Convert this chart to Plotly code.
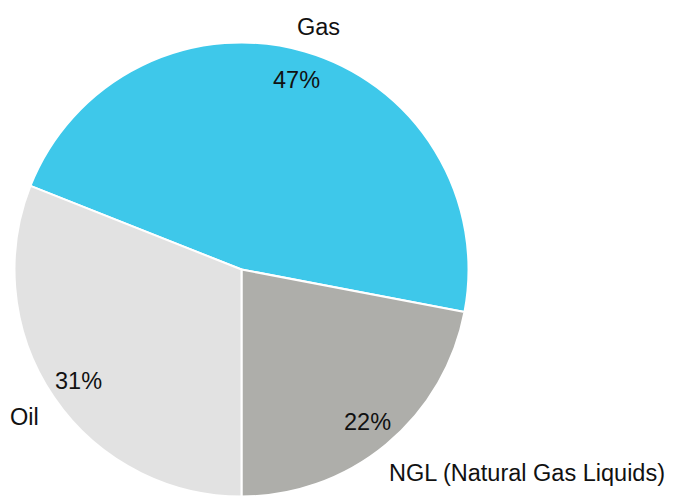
import math
import plotly.graph_objects as go

# Production mix by product
labels = ["Gas", "NGL (Natural Gas Liquids)", "Oil"]
shares = [47, 22, 31]
colors = ["#3EC8EA", "#AEAEAA", "#E2E2E2"]
# fine nudges (px) for the outside category names
name_xshift = [10, -7, -3]
name_yshift = [-2, -4, 2]

W, H = 676, 497
CX, CY, R = 241.5, 269.5, 227.0  # pie centre and radius in pixels

total = float(sum(shares))
# first slice (Gas) starts so that the NGL / Oil boundary sits at 6 o'clock
rotation = 180 - (shares[0] + shares[1]) / total * 360

fig = go.Figure(go.Pie(
    labels=labels,
    values=shares,
    sort=False,
    direction="clockwise",
    rotation=rotation,
    marker=dict(colors=colors, line=dict(color="white", width=2)),
    textinfo="none",
    hoverinfo="label+percent",
    domain=dict(x=[(CX - R) / W, (CX + R) / W],
                y=[(H - CY - R) / H, (H - CY + R) / H]),
    showlegend=False,
))

font = dict(family="Liberation Sans, Arial, sans-serif", size=23.5, color="#111111")


def to_paper(px, py):
    return px / W, 1 - py / H


annotations = []
start = rotation
for lab, val, dx, dy in zip(labels, shares, name_xshift, name_yshift):
    span = val / total * 360
    mid = math.radians(start + span / 2)
    s, c = math.sin(mid), math.cos(mid)

    # percentage inside the slice, near the rim
    x, y = to_paper(CX + 0.87 * R * s, CY - 0.87 * R * c)
    annotations.append(dict(x=x, y=y, xref="paper", yref="paper",
                            text=f"{val / total * 100:.0f}%", showarrow=False,
                            font=font, xanchor="center", yanchor="middle"))

    # category name just outside the rim
    ro = R + 12
    x, y = to_paper(CX + ro * s, CY - ro * c)
    xa = "left" if s > 0.3 else ("right" if s < -0.3 else "center")
    ya = "bottom" if c > 0.3 else ("top" if c < -0.3 else "middle")
    annotations.append(dict(x=x, y=y, xref="paper", yref="paper",
                            text=lab, showarrow=False, font=font,
                            xanchor=xa, yanchor=ya, xshift=dx, yshift=dy))
    start += span

fig.update_layout(
    width=W, height=H,
    margin=dict(l=0, r=0, t=0, b=0),
    paper_bgcolor="white",
    plot_bgcolor="white",
    annotations=annotations,
)

fig.write_html("out.html")
